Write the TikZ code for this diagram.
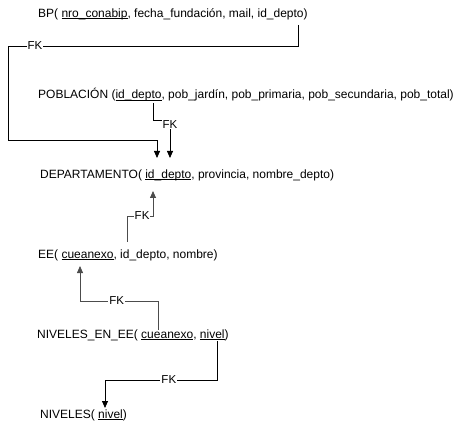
\documentclass[tikz,border=0pt]{standalone}
\usepackage{fontspec}
\setmainfont{Liberation Sans}
\usepackage{tikz}
\usetikzlibrary{arrows.meta, calc}
\newcommand{\pkul}[1]{\setbox0\hbox{#1}\rlap{\rule[-1.8pt]{\wd0}{0.7pt}}#1}
\tikzset{
    tbl_text/.style={
        anchor=west, inner sep=0pt, font=\fontsize{12}{14}\selectfont, text=black
    },
    fk_line/.style={
        -{Triangle[width=6pt, length=7pt]}, draw=black, line width=0.8pt
    },
    fk_line_gray/.style={
        fk_line, draw=black!70
    },
    fk_lbl/.style={
        font=\fontsize{11.5}{13}\selectfont, fill=white, inner sep=1pt, text=black
    }
}

\begin{document}
\begin{tikzpicture}[x=1pt, y=-1pt]
    \useasboundingbox (0,0) rectangle (468,430);

    % Tables
    \node[tbl_text] (bp) at (38, 14) {BP( \pkul{nro\_conabip}, fecha\_fundación, mail, id\_depto)};
    \node[tbl_text] (pob) at (38, 95) {POBLACIÓN (\pkul{id\_depto}, pob\_jardín, pob\_primaria, pob\_secundaria, pob\_total)};
    \node[tbl_text] (dep) at (40, 175) {DEPARTAMENTO( \pkul{id\_depto}, provincia, nombre\_depto)};
    \node[tbl_text] (ee) at (38, 255) {EE( \pkul{cueanexo}, id\_depto, nombre)};
    \node[tbl_text] (nee) at (37, 335) {NIVELES\_EN\_EE( \pkul{cueanexo}, \pkul{nivel})};
    \node[tbl_text] (niv) at (40, 415) {NIVELES( \pkul{nivel})};

    % Attachment points
    \coordinate (bp_id) at (298, 25);
    \coordinate (pob_id) at (153, 103);
    \coordinate (dep_a) at (157, 158);
    \coordinate (dep_b) at (170, 158);
    \coordinate (dep_c) at (153, 191);
    \coordinate (ee_id) at (127, 242);
    \coordinate (ee_cue) at (80, 266);
    \coordinate (nee_cue) at (158, 330);
    \coordinate (nee_niv) at (217, 341);
    \coordinate (niv_top) at (105, 408);

    % Foreign keys
    \draw[fk_line] (bp_id) -- (298, 46) -- node[fk_lbl, pos=0.907] {FK} (8, 46) -- (8, 140) -- (157, 140) -- (dep_a);
    \draw[fk_line] (pob_id) -- (153, 120) -- (170, 120) -- node[fk_lbl, pos=0.11] {FK} (dep_b);
    \draw[fk_line_gray] (ee_id) -- (127, 216) -- node[fk_lbl, pos=0.58] {FK} (153, 216) -- (dep_c);
    \draw[fk_line_gray] (nee_cue) -- (158, 301) -- node[fk_lbl, pos=0.53] {FK} (80, 301) -- (ee_cue);
    \draw[fk_line] (nee_niv) -- (217, 380) -- node[fk_lbl, pos=0.43] {FK} (105, 380) -- (niv_top);
\end{tikzpicture}
\end{document}
